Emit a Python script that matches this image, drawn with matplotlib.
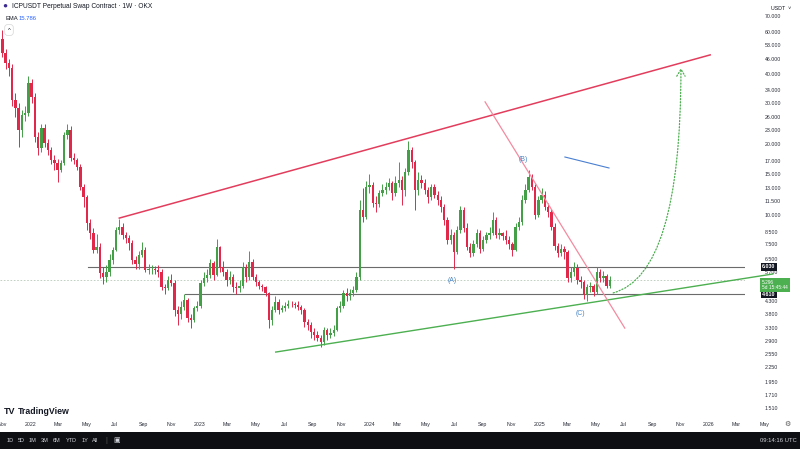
import matplotlib
matplotlib.use("Agg")
import matplotlib.pyplot as plt
import matplotlib.dates as mdates
import matplotlib.transforms as mtransforms
from matplotlib.patches import FancyArrowPatch, Rectangle
from matplotlib.ticker import NullLocator
import pandas as pd

plt.rcParams['font.family'] = ['Liberation Sans', 'DejaVu Sans']

# weekly ICPUSDT candles (open = previous close)
first_open = 56.0
closes = [49.0, 44.5, 42.2, 30.8, 28.5, 23.0, 26.6, 27.2, 36.4, 31.7,
          21.4, 19.3, 23.5, 20.2, 18.9, 17.1, 16.6, 15.5, 16.6, 21.9,
          23.0, 17.5, 17.1, 16.0, 13.2, 11.9, 9.2, 8.4, 7.1, 7.3,
          5.67, 5.45, 5.72, 6.44, 7.1, 8.63, 8.9, 8.2, 8.0, 7.6,
          6.44, 6.2, 6.76, 7.1, 5.84, 5.9, 5.9, 5.85, 5.7, 4.94,
          4.9, 5.3, 5.14, 3.94, 3.8, 4.06, 4.35, 3.64, 3.57, 4.0,
          4.1, 5.14, 5.4, 5.55, 6.24, 5.55, 7.3, 6.0, 5.72, 5.3,
          5.45, 4.94, 4.9, 5.0, 6.0, 5.45, 6.3, 5.45, 5.2, 5.0,
          4.94, 4.66, 3.57, 3.94, 4.27, 3.94, 4.0, 4.1, 4.2, 4.17,
          4.12, 4.06, 3.94, 3.5, 3.4, 3.18, 3.1, 3.0, 2.88, 3.24,
          3.1, 3.15, 3.24, 4.0, 4.1, 4.66, 4.5, 4.66, 4.8, 5.45,
          10.5, 9.8, 13.1, 13.4, 11.3, 11.1, 12.4, 12.8, 13.2, 13.7,
          12.4, 13.7, 14.1, 12.8, 15.2, 18.9, 16.8, 12.8, 14.1, 13.7,
          12.8, 11.9, 13.1, 12.2, 11.6, 10.8, 9.5, 7.83, 8.2, 6.96,
          8.63, 10.5, 8.8, 7.3, 6.9, 7.5, 8.4, 7.2, 7.83, 8.2,
          8.4, 9.5, 8.2, 8.35, 8.1, 7.8, 7.5, 7.1, 8.9, 9.3,
          11.6, 12.8, 14.5, 13.2, 10.0, 11.6, 12.2, 10.8, 10.3, 8.9,
          7.4, 6.9, 7.15, 6.96, 5.4, 5.7, 5.96, 5.3, 5.2, 4.56,
          4.94, 4.97, 4.7, 5.72, 5.4, 5.5, 5.0, 5.296]
highs = [61, 51, 46, 44, 33, 30, 28, 29, 39, 38,
         33, 22.5, 24.5, 24.5, 21, 19.5, 18, 17.3, 17.2, 22.5,
         24.5, 23.8, 18.3, 17.5, 16.4, 13.6, 12.2, 9.6, 8.8, 8.3,
         7.6, 6.0, 6.1, 6.8, 7.3, 8.9, 9.6, 9.2, 8.5, 8.2,
         7.8, 6.7, 7.0, 7.7, 7.3, 6.2, 6.1, 6.05, 6.1, 5.9,
         5.1, 5.5, 5.6, 5.3, 4.1, 4.3, 4.6, 4.45, 3.8, 4.1,
         4.3, 5.3, 5.7, 5.9, 6.5, 6.4, 7.9, 7.4, 6.4, 5.9,
         5.8, 5.6, 5.2, 5.3, 6.3, 6.2, 7.0, 6.5, 5.6, 5.3,
         5.1, 5.0, 4.7, 4.1, 4.5, 4.4, 4.15, 4.25, 4.35, 4.3,
         4.25, 4.3, 4.15, 4.0, 3.6, 3.5, 3.3, 3.2, 3.1, 3.35,
         3.3, 3.3, 3.4, 4.1, 4.3, 4.8, 4.9, 4.85, 5.0, 5.7,
         11.6, 13.0, 14.0, 15.0, 13.8, 12.0, 12.8, 13.5, 13.8, 14.3,
         14.0, 14.6, 16.8, 14.6, 15.8, 20.6, 19.5, 17.2, 15.2, 14.8,
         14.2, 13.2, 13.5, 13.5, 12.6, 12.0, 11.1, 9.8, 8.7, 8.5,
         9.0, 10.9, 10.8, 9.2, 7.6, 7.8, 8.7, 8.6, 8.1, 8.5,
         8.9, 10.3, 9.8, 8.8, 8.5, 8.6, 8.1, 7.7, 9.2, 9.8,
         12.2, 13.5, 15.5, 15.0, 13.5, 12.0, 13.0, 12.6, 11.2, 10.6,
         9.2, 7.6, 7.5, 7.4, 7.1, 6.0, 6.3, 6.2, 5.5, 5.3,
         5.1, 5.2, 5.1, 6.0, 5.9, 5.8, 5.6, 5.5]
lows = [47, 42, 39, 29, 26, 19.5, 21.5, 25, 26.5, 30,
        20.5, 18, 18.5, 19.5, 18, 16.5, 15.5, 13.8, 15.2, 16.3,
        21, 17, 16.5, 15.5, 12.8, 10.8, 8.6, 7.9, 6.9, 6.9,
        5.4, 5.1, 5.2, 5.5, 6.2, 7.0, 8.3, 7.9, 7.6, 7.1,
        6.2, 5.9, 5.9, 6.6, 5.7, 5.6, 5.6, 5.6, 5.45, 4.8,
        4.6, 4.8, 5.0, 3.7, 3.4, 3.6, 3.95, 3.5, 3.3, 3.5,
        3.9, 4.0, 5.0, 5.2, 5.4, 5.3, 5.5, 5.7, 5.5, 5.0,
        5.1, 4.7, 4.6, 4.7, 4.9, 5.2, 5.3, 5.3, 5.0, 4.85,
        4.75, 4.5, 3.3, 3.4, 3.85, 3.8, 3.85, 3.9, 4.0, 4.05,
        4.0, 3.95, 3.8, 3.35, 3.25, 3.0, 2.95, 2.9, 2.75, 2.8,
        2.95, 3.0, 3.05, 3.2, 3.85, 4.0, 4.3, 4.35, 4.5, 4.7,
        5.3, 9.3, 9.6, 12.4, 10.8, 10.3, 10.8, 12.0, 12.3, 12.8,
        11.6, 12.0, 13.2, 11.0, 12.0, 14.8, 15.8, 10.5, 12.2, 13.0,
        12.3, 11.2, 11.6, 11.8, 11.0, 10.3, 9.1, 7.5, 7.5, 5.9,
        6.8, 8.4, 8.5, 7.1, 6.6, 6.7, 7.3, 6.9, 7.0, 7.6,
        7.9, 8.2, 8.0, 7.9, 7.8, 7.5, 7.2, 6.7, 7.0, 8.6,
        9.1, 11.2, 12.5, 12.8, 9.6, 9.8, 11.2, 10.5, 9.8, 8.6,
        7.1, 6.6, 6.7, 6.5, 5.2, 5.2, 5.5, 5.1, 4.9, 4.4,
        4.3, 4.7, 4.5, 4.6, 5.2, 5.2, 4.9, 4.9]
first_week = '2021-11-01'

price_ticks = [70, 60, 53, 46, 40, 34, 30, 26, 23, 20, 17, 15, 13, 11.5, 10,
               8.5, 7.5, 6.5, 5.7, 5.0, 4.3, 3.8, 3.3, 2.9, 2.55, 2.25, 1.95,
               1.71, 1.51]
level_high = 6.030
level_low = 4.610
last_price = 5.296

# drawings: (date, price) end points
upper_line = [('2022-07-11', 9.7), ('2026-01-04', 48.0)]
lower_line = [('2023-06-13', 2.61), ('2026-05-19', 5.61)]
down_line = [('2024-09-06', 30.3), ('2025-07-04', 3.30)]
blue_line = [('2025-02-25', 17.65), ('2025-05-31', 15.85)]
level_high_start = '2022-05-04'
level_low_start = '2022-11-29'
arc_start = ('2025-06-09', 4.66)
arc_end = ('2025-11-02', 42.2)
wave_labels = [('(A)', '2024-06-27', 5.24), ('(B)', '2024-11-27', 17.15),
               ('(C)', '2025-03-31', 3.79)]

UP = '#43a047'
DOWN = '#e0294a'


def d(s):
    return mdates.date2num(pd.Timestamp(s).to_pydatetime())


dates = pd.date_range(first_week, periods=len(closes), freq='7D')
x = [mdates.date2num(t) for t in dates.to_pydatetime()]
opens = [first_open] + closes[:-1]

fig = plt.figure(figsize=(8, 4.49), dpi=100)
ax = fig.add_axes([0, 33 / 449, 745 / 800, 416 / 449])
ax.set_yscale('log')

colors = [UP if c >= o else DOWN for o, c in zip(opens, closes)]
bottoms = [min(o, c) for o, c in zip(opens, closes)]
heights = [abs(c - o) for o, c in zip(opens, closes)]
ax.vlines(x, lows, highs, colors=colors, linewidth=0.7, zorder=3)
ax.bar(x, heights, bottom=bottoms, width=5.2, color=colors, linewidth=0, zorder=4)

# horizontal levels
right = d('2026-03-20')
ax.plot([d(level_high_start), right], [level_high, level_high], color='#6b6b6b', lw=0.8, zorder=2)
ax.plot([d(level_low_start), right], [level_low, level_low], color='#6b6b6b', lw=0.8, zorder=2)
ax.axhline(last_price, color='#b7c9b8', lw=0.6, ls=(0, (2, 2)), zorder=1)

# trend lines
ax.plot([d(p[0]) for p in upper_line], [p[1] for p in upper_line], color='#e23d5c', lw=1.1, zorder=5)
ax.plot([d(p[0]) for p in lower_line], [p[1] for p in lower_line], color='#4caf50', lw=1.0,
        zorder=5, clip_on=False)
ax.plot([d(p[0]) for p in down_line], [p[1] for p in down_line], color='#f38ba0', lw=0.9, zorder=5)
ax.plot([d(p[0]) for p in blue_line], [p[1] for p in blue_line], color='#4a7fd0', lw=0.8, zorder=5)

arc = FancyArrowPatch((d(arc_start[0]), arc_start[1]), (d(arc_end[0]), arc_end[1]),
                      connectionstyle='angle3,angleA=15,angleB=90',
                      arrowstyle='->,head_length=0.5,head_width=0.3', mutation_scale=10,
                      color='#4caf50', lw=0.9, ls=(0, (1, 1.5)), shrinkA=0, shrinkB=0, zorder=5)
ax.add_patch(arc)

for txt, dt, pr in wave_labels:
    ax.text(d(dt), pr, txt, color='#4a86c5', fontsize=5, ha='center', va='center', zorder=6)

# price scale on the right
ax.yaxis.tick_right()
ax.set_yticks(price_ticks)
ax.set_yticklabels([f'{v:.3f}' for v in price_ticks])
ax.yaxis.set_minor_locator(NullLocator())
ax.tick_params(axis='y', length=0, pad=14, labelsize=3.8, labelcolor='#2a2e39')

# time scale
month_ticks = pd.date_range('2021-11-01', '2026-05-01', freq='2MS')
month_labels = [str(t.year) if t.month == 1 else t.strftime('%b') for t in month_ticks]
ax.set_xticks([mdates.date2num(t) for t in month_ticks.to_pydatetime()])
ax.set_xticklabels(month_labels)
ax.tick_params(axis='x', length=0, pad=4.5, labelsize=3.8, labelcolor='#2a2e39')
ax.xaxis.set_minor_locator(NullLocator())

# limits after the ticks, so the off-screen May tick does not widen the view
ax.set_xlim(d('2021-10-27'), d('2026-03-20'))
ax.set_ylim(1.395, 82.2)

xblend = mtransforms.blended_transform_factory(ax.transData, ax.transAxes)
ax.annotate(month_labels[-1], xy=(mdates.date2num(month_ticks[-1].to_pydatetime()), 0),
            xycoords=xblend, xytext=(0, -4.5), textcoords='offset points',
            ha='center', va='top', fontsize=3.8, color='#2a2e39', annotation_clip=False)

for s in ax.spines.values():
    s.set_visible(False)

# price boxes on the scale
yblend = mtransforms.blended_transform_factory(ax.transAxes, ax.transData)
for val in [level_high, level_low]:
    ax.text(1.023, val, f'{val:.3f}', transform=yblend, ha='left', va='center',
            fontsize=3.8, color='white', fontweight='bold', clip_on=False, zorder=10,
            bbox=dict(boxstyle='square,pad=0.3', fc='#131722', ec='none'))
ax.annotate(f'{last_price:.3f}\n5d 15:45:44', xy=(1.023, last_price), xycoords=yblend,
            xytext=(0, -3.5), textcoords='offset points', ha='left', va='center',
            fontsize=3.4, color='white', linespacing=1.1, annotation_clip=False, zorder=10,
            bbox=dict(boxstyle='square,pad=0.35', fc='#4caf50', ec='none'))

# header
fig.text(5 / 800, 1 - 6 / 449, '\u25cf', fontsize=6, color='#3b2a8f', ha='center', va='center')
fig.text(12 / 800, 1 - 7 / 449, 'ICPUSDT Perpetual Swap Contract \u00b7 1W \u00b7 OKX',
         fontsize=4.8, color='#131722', va='center')
fig.text(5 / 800, 1 - 18 / 449, 'EMA', fontsize=4.2, color='#131722', va='center')
fig.text(19 / 800, 1 - 18 / 449, '15.786', fontsize=4.2, color='#2962ff', va='center')
fig.text(9 / 800, 1 - 30 / 449, '^', fontsize=4.2, color='#131722', ha='center', va='center',
         bbox=dict(boxstyle='round,pad=0.5', fc='white', ec='#d6d6d6', lw=0.5))
fig.text(771 / 800, 1 - 8 / 449, 'USDT  \u02c5', fontsize=3.8, color='#131722', va='center')

# logo and bottom bar
fig.text(4 / 800, 1 - 411 / 449, 'TV', fontsize=6.5, color='#131722', fontweight='bold', va='center')
fig.text(18 / 800, 1 - 411 / 449, 'TradingView', fontsize=6.3, color='#131722',
         fontweight='bold', va='center')
fig.text(787 / 800, 1 - 424 / 449, '\u2699', fontsize=5, color='#555555', ha='center', va='center')
fig.patches.append(Rectangle((0, 0), 1, 17 / 449, transform=fig.transFigure,
                             facecolor='#0e0f12', edgecolor='none', zorder=0))
ranges = ['1D', '5D', '1M', '3M', '6M', 'YTD', '1Y', 'All']
range_x = [7, 18, 29, 41, 53, 66, 82, 92]
for lab, px in zip(ranges, range_x):
    fig.text(px / 800, 1 - 441 / 449, lab, fontsize=4.0, color='#d1d4dc', va='center')
fig.text(105 / 800, 1 - 441 / 449, '|', fontsize=5, color='#555555', va='center')
fig.text(113 / 800, 1 - 441 / 449, '\u25a3', fontsize=5, color='#d1d4dc', va='center')
fig.text(797 / 800, 1 - 441 / 449, '09:14:16 UTC', fontsize=4.2, color='#d1d4dc',
         ha='right', va='center')

fig.savefig('out.png', dpi=100)
